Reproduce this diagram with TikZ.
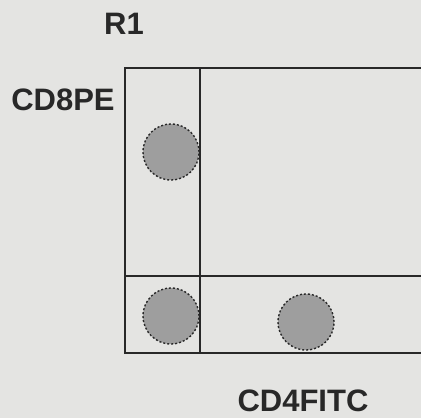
\documentclass[tikz,border=0pt]{standalone}
\usepackage{fontspec}
\setmainfont{Liberation Sans}
\definecolor{bg}{RGB}{228,228,226}
\definecolor{ln}{RGB}{40,40,40}
\definecolor{dot}{RGB}{158,158,158}
\tikzset{
  lbl/.style={font=\bfseries\fontsize{31}{31}\selectfont, text=ln, inner sep=0pt},
  frame/.style={draw=ln, line width=2.7pt},
  pop/.style={circle, fill=dot, draw=ln, dash pattern=on 2pt off 2pt, line width=1.4pt, minimum size=56pt, inner sep=0pt}
}
\begin{document}
\begin{tikzpicture}[x=1pt,y=-1pt]
\fill[bg] (0,0) rectangle (421,418);
\useasboundingbox (0,0) rectangle (421,418);
\begin{scope}
\clip (0,0) rectangle (421,418);
\node[pop] (p1) at (171,152) {};
\node[pop] (p2) at (171,316) {};
\node[pop] (p3) at (306,322) {};
\draw[frame] (125,68) rectangle (430,353);
\draw[frame] (200,68) -- (200,353);
\draw[frame] (125,276) -- (430,276);
\end{scope}
\node[lbl] (r1) at (124,24) {R1};
\node[lbl] (cd8) at (63,100) {CD8PE};
\node[lbl] (cd4) at (303,401) {CD4FITC};
\end{tikzpicture}
\end{document}
